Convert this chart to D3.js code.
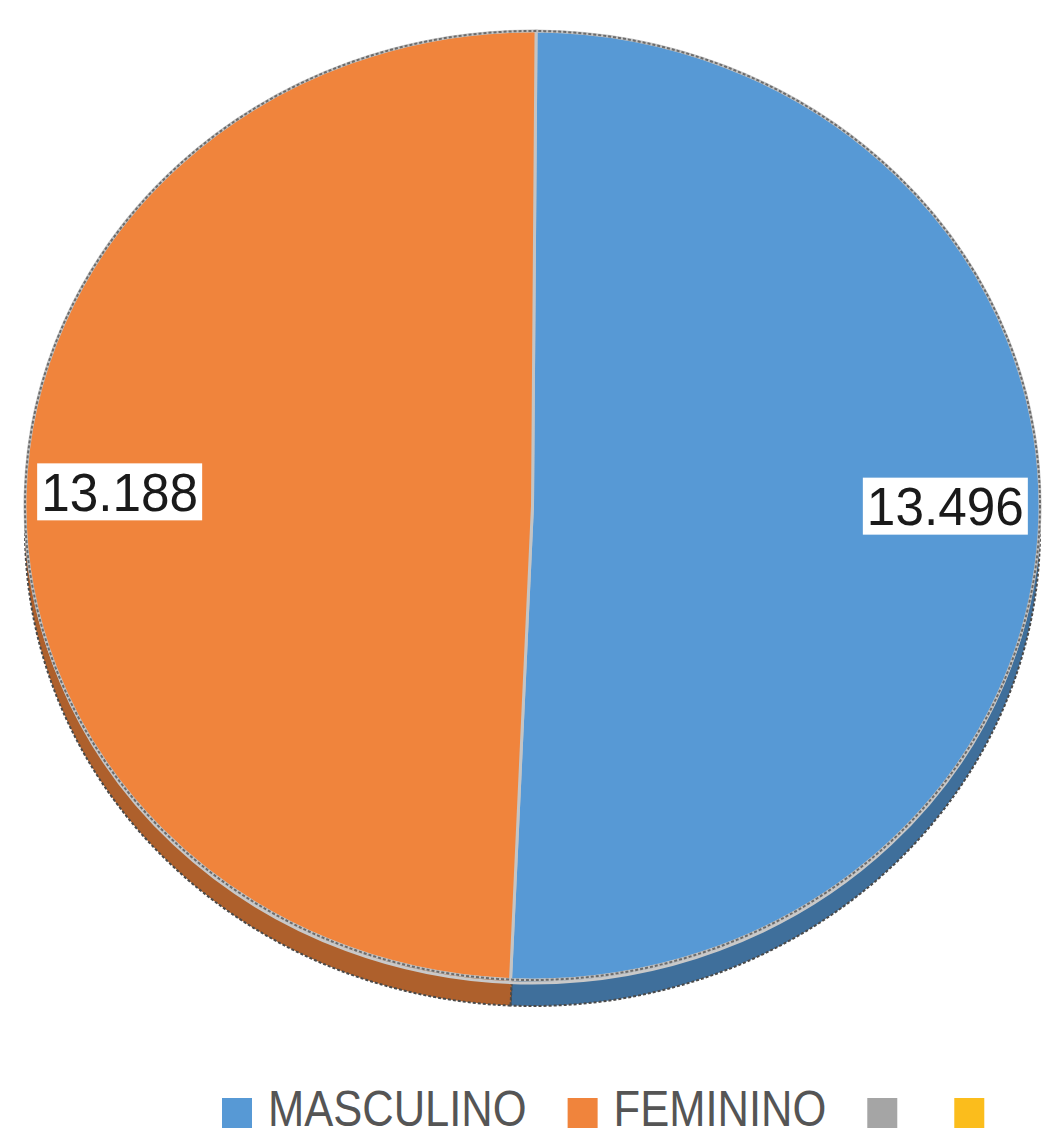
<!DOCTYPE html>
<html>
<head>
<meta charset="utf-8">
<script src="https://cdn.jsdelivr.net/npm/d3@7"></script>
<style>
  body { margin: 0; background: #fff; }
  svg { display: block; }
</style>
</head>
<body>
<div id="chart"></div>
<script>
/* 3D-ish pie, masculino vs femenino */

const categories = ["MASCULINO", "FEMININO", "", ""];
const values = [13496, 13188, 0, 0];
const valueLabels = ["13.496", "13.188", "", ""];
const colors = ["#5799d5", "#f0843c", "#a5a5a5", "#fbbd1c"];

const width = 1046,
    height = 1138;

const cx = 532.5, cy = 505.5,   // centre of top face
    rx = 507.5, ry = 474.5,     // ellipse radii
    depth = 26;                 // side thickness

const svg = d3.select("#chart")
    .append("svg")
    .attr("width", width)
    .attr("height", height)
    .attr("viewBox", [0, 0, width, height]);

const data = categories.map((c, i) => ({ name: c, value: values[i], label: valueLabels[i], color: colors[i] }));

let pie = d3.pie()
    .sort(null)
    .value(d => d.value)
    .startAngle(0.007)
    .endAngle(0.007 + 2 * Math.PI);

let arcs = pie(data).filter(d => d.data.value > 0);

let arc = d3.arc()
    .innerRadius(0)
    .outerRadius(rx);

// side / bottom of the disc, darker
let side = svg.append("g")
    .attr("transform", `translate(${cx},${cy + depth}) scale(1,${ry / rx})`);

side.selectAll("path")
    .data(arcs)
    .join("path")
    .attr("d", arc)
    .attr("fill", d => d3.color(d.data.color).darker(0.9))
    .attr("stroke", "#4a4a4a")
    .attr("stroke-width", 2)
    .attr("stroke-dasharray", "3 2")
    .attr("vector-effect", "non-scaling-stroke");

// light rim between side and top
svg.append("ellipse")
    .attr("cx", cx)
    .attr("cy", cy + 3)
    .attr("rx", rx - 1)
    .attr("ry", ry)
    .attr("fill", "none")
    .attr("stroke", "#c9c9c9")
    .attr("stroke-width", 3);

// top face
let face = svg.append("g")
    .attr("transform", `translate(${cx},${cy}) scale(1,${ry / rx})`);

face.selectAll("path")
    .data(arcs)
    .join("path")
    .attr("d", arc)
    .attr("fill", d => d.data.color)
    .attr("stroke", "#c4c4c4")
    .attr("stroke-width", 3)
    .attr("vector-effect", "non-scaling-stroke");

// dark dotted outline round the disc
svg.append("ellipse")
    .attr("cx", cx)
    .attr("cy", cy)
    .attr("rx", rx)
    .attr("ry", ry)
    .attr("fill", "none")
    .attr("stroke", "#555")
    .attr("stroke-width", 2)
    .attr("stroke-dasharray", "3 2")
    .attr("opacity", 0.8);

// value labels, inside end, white boxes
const labelSize = 54, inset = 12;

let labels = svg.append("g");
arcs.forEach(d => {
    let mid = (d.startAngle + d.endAngle) / 2;
    let ex = cx + Math.sin(mid) * rx,
        ey = cy - Math.cos(mid) * ry * 0.6 - 7;
    let right = Math.sin(mid) > 0;
    let g = labels.append("g");
    let t = g.append("text")
        .attr("x", right ? ex - inset - 4 : ex + inset + 4)
        .attr("y", ey + labelSize * 0.36)
        .attr("text-anchor", right ? "end" : "start")
        .attr("font-family", "Liberation Sans, Arial, sans-serif")
        .attr("font-size", labelSize)
        .attr("textLength", 157)
        .attr("lengthAdjust", "spacingAndGlyphs")
        .attr("fill", "#1a1a1a")
        .text(d.data.label);
    let bb = t.node().getBBox();
    g.insert("rect", "text")
        .attr("x", bb.x - 4)
        .attr("y", ey - 28)
        .attr("width", bb.width + 8)
        .attr("height", 57)
        .attr("fill", "#fff");
});

// legend (condensed text, like the original narrow font)
const legendY = 1098, sq = 30;
let lx = 222;
let legend = svg.append("g");
data.forEach(d => {
    legend.append("rect")
        .attr("x", lx)
        .attr("y", legendY)
        .attr("width", sq)
        .attr("height", sq)
        .attr("fill", d.color);
    lx += sq + 16;
    let t = legend.append("text")
        .attr("x", lx)
        .attr("y", legendY + 28)
        .attr("font-family", "Liberation Sans, Arial, sans-serif")
        .attr("font-size", 50)
        .attr("fill", "#555")
        .text(d.name);
    let w = d.name ? t.node().getComputedTextLength() * 0.87 : 0;
    if (d.name) t.attr("textLength", w).attr("lengthAdjust", "spacingAndGlyphs");
    lx += w + 41;
});
</script>
</body>
</html>
